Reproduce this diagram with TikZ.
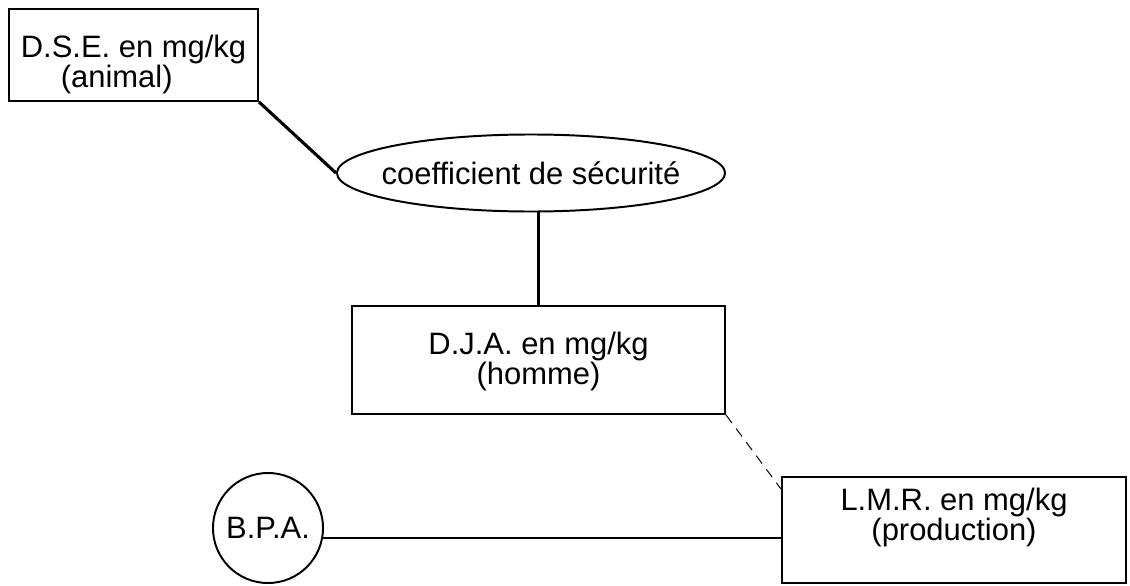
\documentclass[tikz,border=0pt]{standalone}
\usepackage{fontspec}
\setmainfont{Liberation Sans}
\usetikzlibrary{shapes.geometric}

\begin{document}
\begin{tikzpicture}[
  x=0.025cm, y=-0.025cm,
  % --- node styles ---
  dosebox/.style={
    draw, line width=1.4pt, inner sep=0pt,
    font=\fontsize{22}{21}\selectfont, align=center
  },
  coefell/.style={
    draw, ellipse, line width=1.4pt, inner ysep=0pt, inner xsep=-0.41cm,
    minimum width=9.7cm, minimum height=1.925cm,
    font=\fontsize{22}{21}\selectfont
  },
  bpacirc/.style={
    draw, circle, line width=1.4pt, inner sep=0pt,
    minimum size=2.75cm, font=\fontsize{22}{21}\selectfont
  },
  link/.style={line width=1.5pt},
  thicklink/.style={line width=2.2pt},
  dashlink/.style={line width=0.7pt, dash pattern=on 7pt off 5pt},
]
\useasboundingbox (0,0) rectangle (1130,585);

% Top: animal dose and safety factor
\node[dosebox, align=left, minimum width=6.225cm, text height=1.95cm, text depth=0.35cm] (dse) at (133.5,55) {D.S.E. en mg/kg\\\hspace*{1cm}(animal)};
\node[coefell] (coef) at (531,173) {coefficient de sécurité};

% Middle: daily intake
\node[dosebox, minimum width=9.325cm, text height=1.95cm, text depth=0.75cm] (dja) at (538.5,360) {D.J.A. en mg/kg\\(homme)};

% Bottom: good practice and residue limit
\node[bpacirc] (bpa) at (268,528) {B.P.A.};
\node[dosebox, minimum width=8.6cm, text height=1.575cm, text depth=1.075cm] (lmr) at (954,530) {L.M.R. en mg/kg\\(production)};

% ─── Links ───
\draw[thicklink] (dse.south east) -- (coef.west);
\draw[link] (dja.north) -- (dja.north |- coef.south);
\draw[dashlink] (dja.south east) -- ([yshift=-0.325cm]lmr.north west);
\draw[link] (bpa.-10) -- (bpa.-10 -| lmr.west);

\end{tikzpicture}
\end{document}
